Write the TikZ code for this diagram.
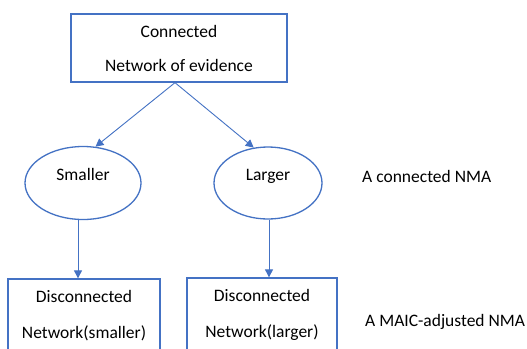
\documentclass[tikz,border=0pt]{standalone}
\usepackage{fontspec}
\setmainfont{Carlito}
\usetikzlibrary{arrows.meta,shapes.geometric}
\definecolor{obl}{HTML}{4472C4}
\begin{document}
\begin{tikzpicture}[x=1bp,y=-1bp,
  boxnode/.style={draw=obl,line width=1.3bp,rectangle,inner sep=0pt,align=center,
    font=\fontsize{17.5bp}{36bp}\selectfont},
  ellnode/.style={draw=obl,line width=1.3bp,ellipse,inner sep=0pt,
    font=\fontsize{17.5bp}{21bp}\selectfont},
  lbl/.style={anchor=west,inner sep=0pt,font=\fontsize{17.5bp}{21bp}\selectfont},
  arr/.style={draw=obl,line width=0.9bp,-{Triangle[length=8bp,width=8bp]}}]
\useasboundingbox (0,0) rectangle (527,348);
\clip (0,0) rectangle (527,348);
\fill[white] (0,0) rectangle (527,348);
\node[boxnode,minimum width=216bp,minimum height=68bp] (top) at (179,48) {\raisebox{-2bp}{Connected}\\Network of evidence};
\node[ellnode,minimum width=116bp,minimum height=73bp] (sm) at (83,183) {\raisebox{2.5bp}[0pt][0pt]{Smaller}};
\node[ellnode,minimum width=108bp,minimum height=72bp] (lg) at (268,183) {\raisebox{2.5bp}[0pt][0pt]{Larger}};
\node[boxnode,minimum width=152bp,minimum height=74bp] (bl) at (84,316) {Disconnected\\Network(smaller)};
\node[boxnode,minimum width=150bp,minimum height=74bp] (br) at (262,315) {Disconnected\\Network(larger)};
\node[lbl] (l1) at (362,176) {A connected NMA};
\node[lbl] (l2) at (365,322) {A MAIC-adjusted NMA};
\coordinate (apex) at ([xshift=-4bp]top.south);
\draw[arr] (apex) -- (sm.71);
\draw[arr] (apex) -- (lg.112);
\draw[arr] ([xshift=-5bp]sm.south) -- ([xshift=-5bp]sm.south |- bl.north);
\draw[arr] ([xshift=1bp]lg.south) -- ([xshift=1bp]lg.south |- br.north);
\end{tikzpicture}
\end{document}
